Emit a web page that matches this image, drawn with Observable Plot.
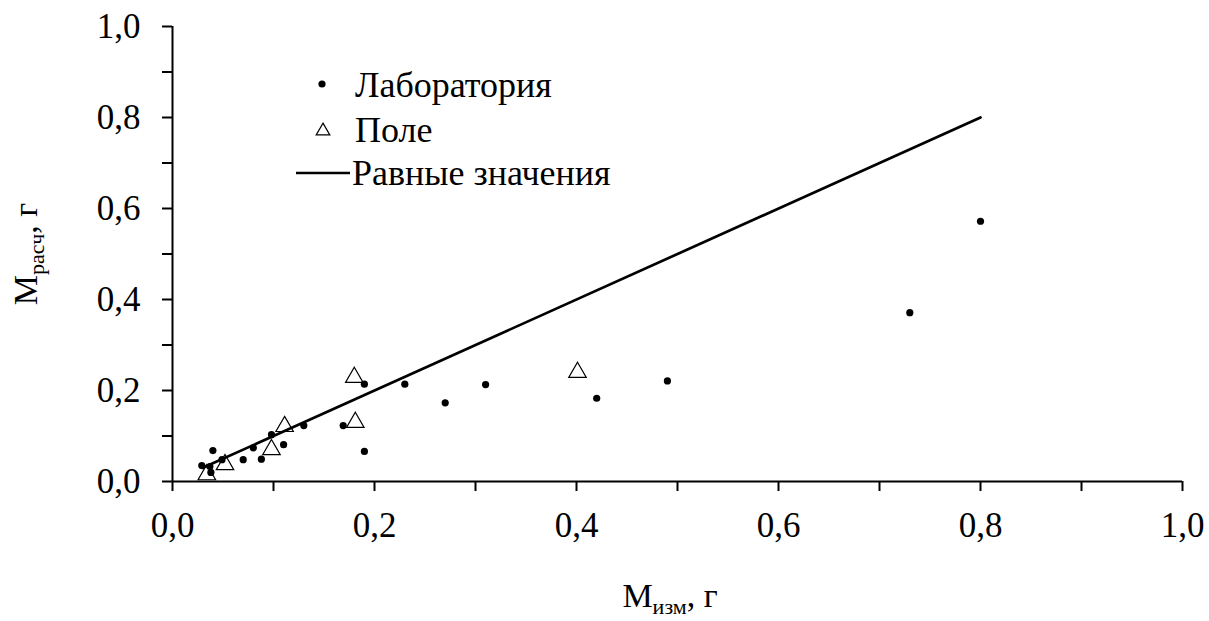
<!DOCTYPE html>
<html><head><meta charset="utf-8">
<script src="https://cdn.jsdelivr.net/npm/d3@7"></script>
<script src="https://cdn.jsdelivr.net/npm/@observablehq/plot@0.6"></script>
<style>
body{margin:0;background:#fff}
text, tspan{font-family:"Liberation Serif","Times New Roman",serif !important}
</style>
</head><body><div id="chart"></div>
<script>
// Лаборатория (measured, calculated)
const labX = [0.029, 0.037, 0.038, 0.040, 0.049, 0.070, 0.080, 0.088, 0.098, 0.110, 0.130, 0.169, 0.190, 0.190, 0.230, 0.270, 0.310, 0.420, 0.490, 0.730, 0.800];
const labY = [0.035, 0.033, 0.020, 0.068, 0.048, 0.048, 0.074, 0.049, 0.103, 0.081, 0.123, 0.123, 0.214, 0.066, 0.214, 0.173, 0.213, 0.183, 0.221, 0.371, 0.572];
// Поле
const fieldX = [0.034, 0.052, 0.098, 0.111, 0.180, 0.181, 0.401];
const fieldY = [0.015, 0.037, 0.070, 0.121, 0.229, 0.130, 0.240];
// Равные значения
const equalX = [0.03, 0.8];
const axisTicks = [0, 0.1, 0.2, 0.3, 0.4, 0.5, 0.6, 0.7, 0.8, 0.9, 1.0];
const labeledTicks = ["0.0", "0.2", "0.4", "0.6", "0.8", "1.0"];
const legendLabels = ["Лаборатория", "Поле", "Равные значения"];
const xTitle = ["М", "изм", ", г"];
const yTitle = ["М", "расч", ", г"];

const FONT = "Liberation Serif";

const lab = labX.map((x, i) => ({x, y: labY[i]}));
const field = fieldX.map((x, i) => ({x, y: fieldY[i]}));
const equal = equalX.map(v => ({x: v, y: v}));
const fmt = d => labeledTicks.includes(d.toFixed(1)) ? d.toFixed(1).replace(".", ",") : "";

const plot = Plot.plot({
  width: 1209, height: 621,
  marginLeft: 172, marginRight: 27, marginTop: 26, marginBottom: 140,
  style: {fontFamily: FONT, fontSize: "35px", color: "#000", background: "#fff", overflow: "visible"},
  x: {domain: [0, 1]},
  y: {domain: [0, 1]},
  marks: [
    Plot.axisX(axisTicks, {tickSize: 10, tickPadding: 21, strokeWidth: 2, tickFormat: fmt, label: null, fontSize: 35}),
    Plot.axisY(axisTicks, {tickSize: 10, tickPadding: 22, strokeWidth: 2, tickFormat: fmt, label: null, fontSize: 35}),
    Plot.ruleY([0], {stroke: "#000", strokeWidth: 2}),
    Plot.ruleX([0], {stroke: "#000", strokeWidth: 2}),
    Plot.line(equal, {x: "x", y: "y", stroke: "#000", strokeWidth: 2.7}),
    Plot.dot(lab, {x: "x", y: "y", r: 3.6, fill: "#000", stroke: null}),
    Plot.dot(field, {x: "x", y: "y", symbol: "triangle", r: 6.5, stroke: "#000", fill: "none", strokeWidth: 1.2})
  ]
});
document.getElementById("chart").appendChild(plot);

const svg = d3.select(plot);
svg.attr("font-family", FONT);
// Legend
const lg = svg.append("g").attr("font-size", 36).attr("fill", "#000").attr("text-anchor", "start");
lg.append("circle").attr("cx", 322).attr("cy", 84).attr("r", 3.6).attr("fill", "#000");
lg.append("path").attr("d", d3.symbol(d3.symbolTriangle2, 6.5 * 6.5 * Math.PI)()).attr("transform", "translate(323,131)")
  .attr("fill", "none").attr("stroke", "#000").attr("stroke-width", 1.2);
lg.append("line").attr("x1", 296).attr("x2", 350).attr("y1", 173).attr("y2", 173).attr("stroke", "#000").attr("stroke-width", 2.5);
[97, 142, 185].forEach((yy, i) => {
  lg.append("text").attr("x", i === 2 ? 352 : 355).attr("y", yy).text(legendLabels[i]);
});

// X title
const xt = svg.append("text").attr("text-anchor", "middle").attr("transform", "translate(670,607)").attr("font-size", 34);
xt.append("tspan").text(xTitle[0]);
xt.append("tspan").attr("font-size", 22).attr("dy", 7).text(xTitle[1]);
xt.append("tspan").attr("dy", -7).text(xTitle[2]);

// Y title
const yt = svg.append("text").attr("text-anchor", "middle").attr("transform", "translate(37,254) rotate(-90)").attr("font-size", 34);
yt.append("tspan").text(yTitle[0]);
yt.append("tspan").attr("font-size", 22).attr("dy", 7).text(yTitle[1]);
yt.append("tspan").attr("dy", -7).text(yTitle[2]);

svg.selectAll("text").attr("font-family", FONT);
</script>
</body></html>
